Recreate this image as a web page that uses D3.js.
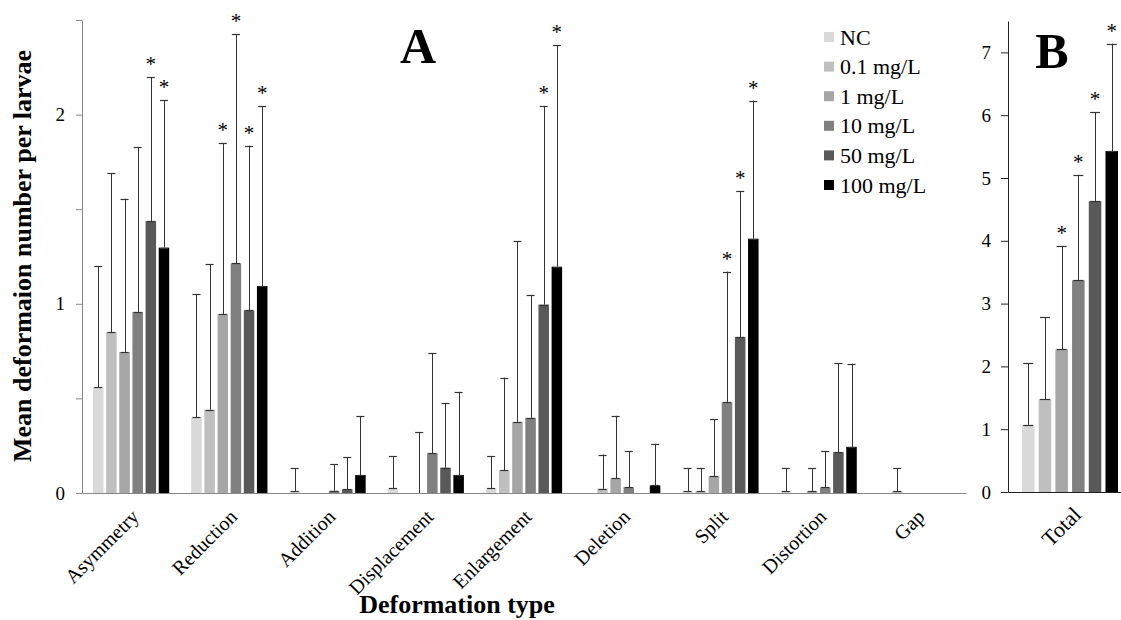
<!DOCTYPE html>
<html>
<head>
<meta charset="utf-8">
<script src="https://cdn.jsdelivr.net/npm/d3@7"></script>
<style>
  html, body { margin: 0; padding: 0; background: #fff; }
  svg { display: block; }
</style>
</head>
<body>
<svg id="chart" width="1121" height="620"></svg>
<script>
// ---------------- DATA ----------------
const categories = ["Asymmetry", "Reduction", "Addition", "Displacement", "Enlargement", "Deletion", "Split", "Distortion", "Gap"];
const seriesNames = ["NC", "0.1 mg/L", "1 mg/L", "10 mg/L", "50 mg/L", "100 mg/L"];
const seriesColors = ["#d9d9d9", "#bfbfbf", "#a6a6a6", "#808080", "#595959", "#000000"];

// Mean deformation per larva (panel A), one array per concentration
const meanNC   = [0.56, 0.40, 0.01, 0.025, 0.025, 0,     0.01, 0.01, 0];
const mean01   = [0.85, 0.44, 0,    0,     0.12,  0.023, 0.01, 0,    0.01];
const mean1    = [0.745,0.945,0,    0,     0.376, 0.078, 0.09, 0.01, 0];
const mean10   = [0.957,1.214,0.012,0.21,  0.397, 0.03,  0.48, 0.03, 0];
const mean50   = [1.437,0.966,0.02, 0.134, 0.996, 0,     0.825,0.216,0];
const mean100  = [1.297,1.094,0.095,0.095, 1.196, 0.04,  1.344,0.244,0];

// Standard deviations (upper error bars)
const sdNC   = [0.64, 0.65, 0.12, 0.17, 0.17, 0,    0.12, 0.12, 0];
const sd01   = [0.84, 0.77, 0,    0,    0.49, 0.18, 0.12, 0,    0.12];
const sd1    = [0.81, 0.905,0,    0.32, 0.955,0.33, 0.30, 0.12, 0];
const sd10   = [0.87, 1.21, 0.14, 0.53, 0.65, 0.19, 0.69, 0.19, 0];
const sd50   = [0.76, 0.87, 0.17, 0.34, 1.05, 0,    0.77, 0.47, 0];
const sd100  = [0.78, 0.95, 0.31, 0.44, 1.17, 0.22, 0.73, 0.44, 0];

// Significance flags (asterisks)
const sigNC  = [0,0,0,0,0,0,0,0,0];
const sig01  = [0,0,0,0,0,0,0,0,0];
const sig1   = [0,1,0,0,0,0,0,0,0];
const sig10  = [0,1,0,0,0,0,1,0,0];
const sig50  = [1,1,0,0,1,0,1,0,0];
const sig100 = [1,1,0,0,1,0,1,0,0];

// Panel B: total
const totalCategory = ["Total"];
const totalMean = [1.07, 1.48, 2.27, 3.37, 4.63, 5.43];
const totalSd   = [0.98, 1.30, 1.65, 1.68, 1.42, 1.71];
const totalSig  = [0, 0, 1, 1, 1, 1];

// Tick values
const ticksA = [0, 0.5, 1, 1.5, 2, 2.5];
const ticksB = [0, 1, 2, 3, 4, 5, 6, 7];

// ---------------- DRAW ----------------
const means = [meanNC, mean01, mean1, mean10, mean50, mean100];
const sds = [sdNC, sd01, sd1, sd10, sd50, sd100];
const sigs = [sigNC, sig01, sig1, sig10, sig50, sig100];

const serif = "'Liberation Serif','Times New Roman',Times,serif";
const svg = d3.select("#chart");

// ---- Panel A scales
const yA = d3.scaleLinear().domain([0, 2.5]).range([493, 20]);
const xA = d3.scaleBand().domain(categories).range([82, 966]).paddingInner(0).paddingOuter(0);
const subA = d3.scaleBand().domain(seriesNames).range([11, xA.bandwidth() - 11]).paddingInner(0.2).paddingOuter(0);

// ---- Panel B scales
const yB = d3.scaleLinear().domain([0, 7.5]).range([492, 21]);
const xB = d3.scaleBand().domain(totalCategory).range([1008, 1131]);
const subB = d3.scaleBand().domain(seriesNames).range([14, 110]).paddingInner(0.25).paddingOuter(0);

// Panel A bars
const gA = svg.append("g");
const rowsA = [];
seriesNames.forEach((s, si) => {
  categories.forEach((c, ci) => {
    rowsA.push({s, si, c, v: means[si][ci], e: sds[si][ci], sig: sigs[si][ci]});
  });
});

gA.selectAll("rect.bar").data(rowsA.filter(d => d.v > 0)).join("rect")
  .attr("class", "bar")
  .attr("x", d => xA(d.c) + subA(d.s))
  .attr("width", subA.bandwidth())
  .attr("y", d => yA(d.v))
  .attr("height", d => yA(0) - yA(d.v))
  .attr("fill", d => seriesColors[d.si]);

function drawErr(g, rows, xf, yf, bw, capW) {
  const eg = g.selectAll("g.err").data(rows.filter(d => d.e > 0)).join("g").attr("class", "err");
  eg.append("line")
    .attr("x1", d => Math.round(xf(d) + bw / 2) + 0.5).attr("x2", d => Math.round(xf(d) + bw / 2) + 0.5)
    .attr("y1", d => yf(d.v)).attr("y2", d => yf(d.v + d.e))
    .attr("stroke", "#333").attr("stroke-width", 1);
  eg.append("line")
    .attr("x1", d => xf(d) + bw / 2 - capW / 2).attr("x2", d => xf(d) + bw / 2 + capW / 2)
    .attr("y1", d => Math.round(yf(d.v + d.e)) + 0.5).attr("y2", d => Math.round(yf(d.v + d.e)) + 0.5)
    .attr("stroke", "#333").attr("stroke-width", 1.2);
  eg.filter(d => d.v > 0).append("line")
    .attr("x1", d => xf(d) + bw / 2 - capW / 2).attr("x2", d => xf(d) + bw / 2 + capW / 2)
    .attr("y1", d => Math.round(yf(d.v)) + 0.5).attr("y2", d => Math.round(yf(d.v)) + 0.5)
    .attr("stroke", "#333").attr("stroke-width", 1.2);
  g.selectAll("text.sig").data(rows.filter(d => d.sig)).join("text")
    .attr("class", "sig")
    .attr("x", d => xf(d) + bw / 2)
    .attr("y", d => yf(d.v + d.e) - 6)
    .attr("text-anchor", "middle")
    .attr("font-family", serif).attr("font-size", 21)
    .text("*");
}
drawErr(gA, rowsA, d => xA(d.c) + subA(d.s), yA, subA.bandwidth(), 8);

// Panel A axes
const axA = svg.append("g").attr("transform", `translate(82,0)`)
  .call(d3.axisLeft(yA).tickValues(ticksA).tickFormat(d => Number.isInteger(d) ? d : "").tickSize(6).tickPadding(11).tickSizeOuter(0));
axA.select(".domain").attr("stroke", "#888");
axA.selectAll(".tick line").attr("stroke", "#888");
axA.selectAll("text").attr("font-family", serif).attr("font-size", 19).attr("fill", "#000");

const axAx = svg.append("g").attr("transform", `translate(0,493)`)
  .call(d3.axisBottom(xA).tickSize(0).tickSizeOuter(0));
axAx.select(".domain").attr("stroke", "#888");
axAx.selectAll("text")
  .attr("y", 0).attr("dy", 0)
  .attr("text-anchor", "end")
  .attr("transform", "translate(9,25) rotate(-45)")
  .attr("font-family", serif).attr("font-size", 20).attr("fill", "#000");

// Panel B bars
const gB = svg.append("g");
const rowsB = seriesNames.map((s, si) => ({s, si, c: "Total", v: totalMean[si], e: totalSd[si], sig: totalSig[si]}));
gB.selectAll("rect.bar").data(rowsB).join("rect")
  .attr("class", "bar")
  .attr("x", d => xB(d.c) + subB(d.s))
  .attr("width", subB.bandwidth())
  .attr("y", d => yB(d.v))
  .attr("height", d => yB(0) - yB(d.v))
  .attr("fill", d => seriesColors[d.si]);
drawErr(gB, rowsB, d => xB(d.c) + subB(d.s), yB, subB.bandwidth(), 10);

const axB = svg.append("g").attr("transform", `translate(1008,0)`)
  .call(d3.axisLeft(yB).tickValues(ticksB).tickSize(7).tickPadding(10).tickSizeOuter(0));
axB.select(".domain").attr("stroke", "#222");
axB.selectAll(".tick line").attr("stroke", "#222");
axB.selectAll("text").attr("font-family", serif).attr("font-size", 19).attr("fill", "#000");

const axBx = svg.append("g").attr("transform", `translate(0,492)`)
  .call(d3.axisBottom(xB).tickSize(0).tickSizeOuter(0));
axBx.select(".domain").attr("stroke", "#222");
axBx.selectAll("text")
  .attr("y", 0).attr("dy", 0)
  .attr("text-anchor", "end")
  .attr("transform", "translate(13,24) rotate(-45)")
  .attr("font-family", serif).attr("font-size", 22).attr("fill", "#000");

// Titles
svg.append("text").attr("x", 418).attr("y", 63).attr("text-anchor", "middle")
  .attr("font-family", serif).attr("font-weight", "bold").attr("font-size", 50).text("A");
svg.append("text").attr("x", 1052).attr("y", 68).attr("text-anchor", "middle")
  .attr("font-family", serif).attr("font-weight", "bold").attr("font-size", 50).text("B");

svg.append("text")
  .attr("transform", "translate(31,256) rotate(-90)")
  .attr("text-anchor", "middle")
  .attr("font-family", serif).attr("font-weight", "bold").attr("font-size", 26)
  .text("Mean deformaion number per larvae");

svg.append("text").attr("x", 457).attr("y", 613).attr("text-anchor", "middle")
  .attr("font-family", serif).attr("font-weight", "bold").attr("font-size", 26)
  .text("Deformation type");

// Legend
const leg = svg.append("g").attr("transform", "translate(824,0)");
const legRows = leg.selectAll("g").data(seriesNames).join("g")
  .attr("transform", (d, i) => `translate(0,${37 + i * 29.6})`);
legRows.append("rect").attr("x", 0).attr("y", -5).attr("width", 10).attr("height", 10)
  .attr("fill", (d, i) => seriesColors[i]);
legRows.append("text").attr("x", 16).attr("y", 7.5)
  .attr("font-family", serif).attr("font-size", 22).text(d => d);
</script>
</body>
</html>
